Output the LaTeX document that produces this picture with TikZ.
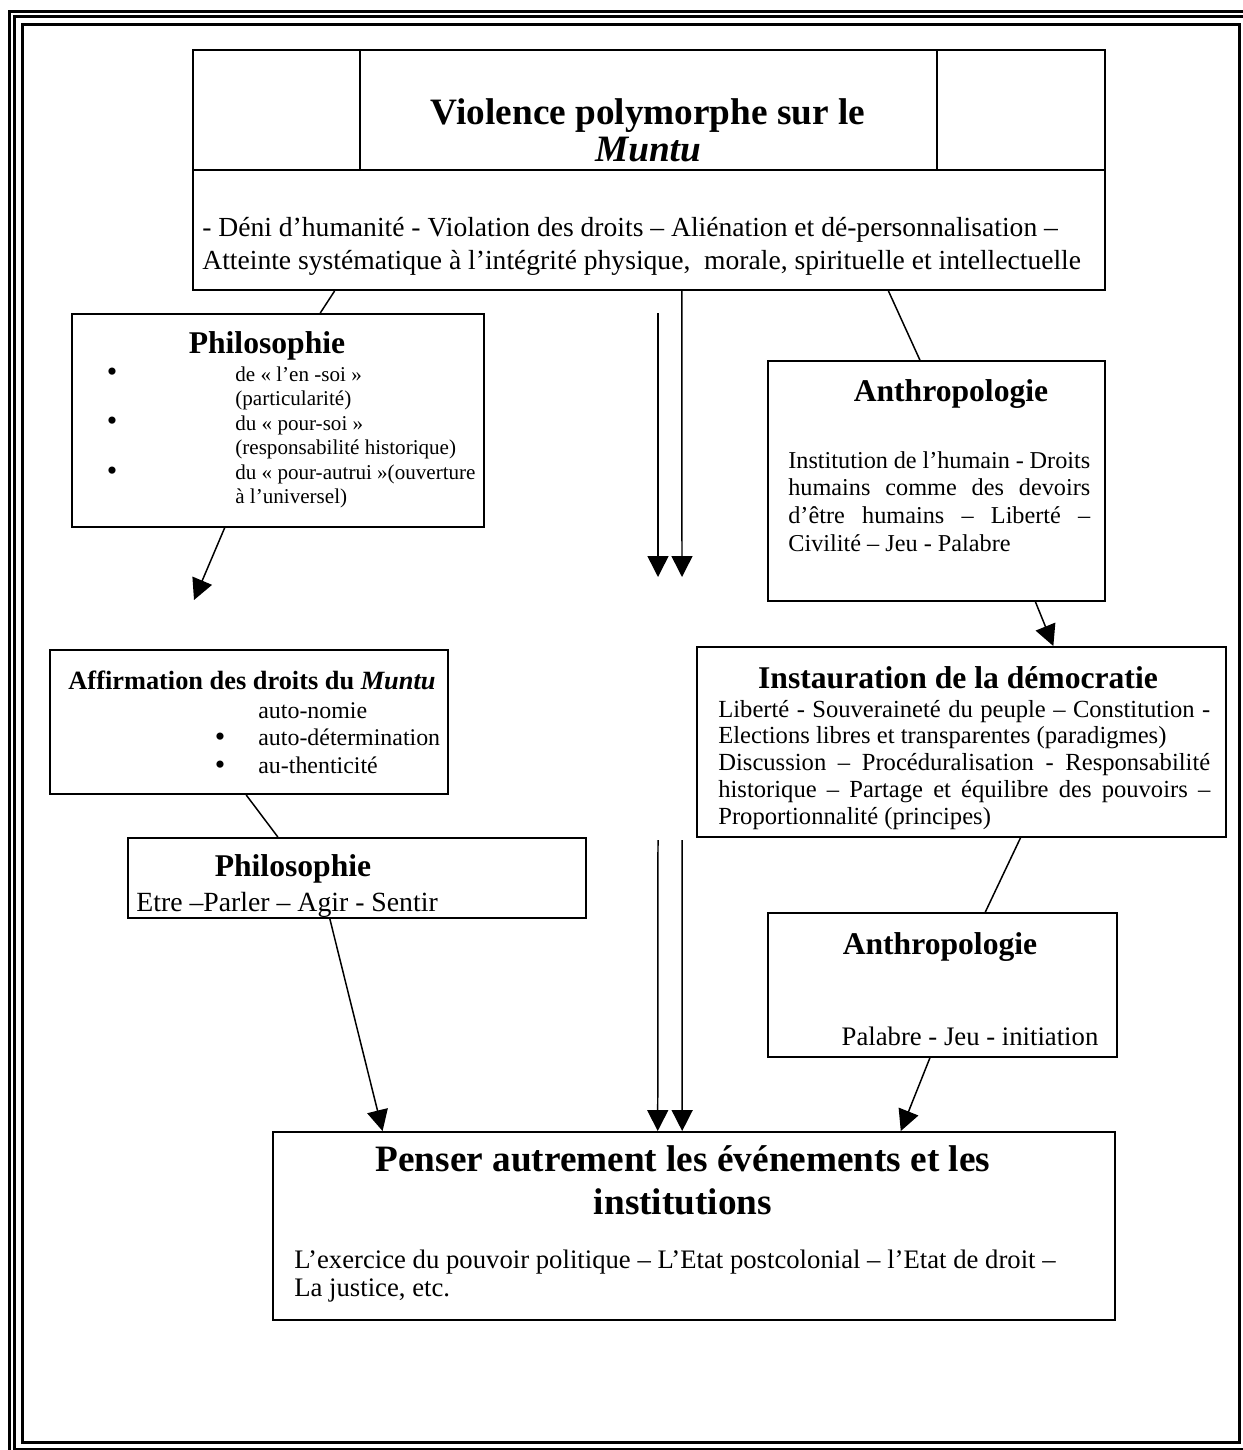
\documentclass[tikz,border=0pt]{standalone}
\usepackage{fontspec}
\setmainfont{Liberation Serif}
\usetikzlibrary{arrows.meta,calc,fit}

\tikzset{
    box/.style={draw, line width=1.1pt, inner sep=0pt},
    link/.style={line width=0.85pt},
    arr/.style={line width=0.85pt, -{Triangle[width=0.42cm,length=0.42cm]}},
    bigtitle/.style={font=\fontsize{21.2}{24}\selectfont\bfseries, align=flush center, inner sep=0pt, anchor=base},
    head/.style={font=\fontsize{18}{20}\selectfont\bfseries, inner sep=0pt, anchor=base},
    txt/.style={font=\fontsize{15.2}{17}\selectfont, inner sep=0pt, anchor=base west, align=flush left},
    small/.style={font=\fontsize{12}{13.95}\selectfont, inner sep=0pt, anchor=base west, align=flush left},
    dot/.style={font=\fontsize{17}{17}\selectfont, inner sep=0pt, anchor=base},
}

\begin{document}
\begin{tikzpicture}[x=0.02cm, y=-0.02cm]
    \useasboundingbox (0,0) rectangle (1242,1450);

    % Page frame
    \draw[line width=1.7pt] (9.5,11.3) rectangle (1260,1465);
    \draw[line width=1.7pt] (14.5,16.5) rectangle (1246,1449);
    \draw[line width=1.7pt] (22.5,24.5) rectangle (1239.5,1442.5);

    % Violence
    \node[box, fit={(193,50) (1105,290)}] (top) {};
    \draw[box] (193,170) -- (1105,170) (360,50) -- (360,170) (937,50) -- (937,170); % title cells
    \node[bigtitle, text width=11cm, font=\fontsize{21.2}{21.5}\selectfont\bfseries] (topt) at (648,124) {Violence polymorphe sur le\\\textit{Muntu}};
    \node[txt, text width=20cm, font=\fontsize{15.7}{19.2}\selectfont] (topl) at (202,236) {- Déni d’humanité - Violation des droits – Aliénation et dé-personnalisation –\\Atteinte systématique à l’intégrité physique,\ \ morale, spirituelle et intellectuelle};

    % Philosophie (en-soi, pour-soi, pour-autrui)
    \node[box, fit={(72,314) (484,527)}] (philA) {};
    \node[head] (philAt) at (267,353) {Philosophie};
    \node[small, text width=6cm] (philAl) at (235,381) {de « l’en -soi »\\(particularité)\\du « pour-soi »\\(responsabilité historique)\\du « pour-autrui »(ouverture\\à l’universel)};
    \foreach \y [count=\i] in {381,430,480}
        \node[dot] (dotA\i) at (112,\y) {\textbullet};

    % Anthropologie
    \node[box, fit={(768,361) (1105,601)}] (anthA) {};
    \node[head] (anthAt) at (951,401) {Anthropologie};
    \node[txt, font=\fontsize{13.8}{15.9}\selectfont, text width=6.04cm, align=justify] (anthAl) at (788,468) {Institution de l’humain - Droits\linebreak humains comme des devoirs\linebreak d’être humains – Liberté –\linebreak Civilité – Jeu - Palabre};

    % Instauration de la democratie
    \node[box, fit={(697,647) (1226,837)}] (demo) {};
    \node[head] (demot) at (958,688) {Instauration de la démocratie};
    \node[txt, font=\fontsize{14}{15.3}\selectfont, text width=9.84cm, align=justify] (demol) at (718,717) {Liberté - Souveraineté du peuple – Constitution -\linebreak Elections libres et transparentes (paradigmes)\newline Discussion – Procéduralisation - Responsabilité\linebreak historique – Partage et équilibre des pouvoirs –\linebreak Proportionnalité (principes)};

    % Affirmation des droits
    \node[box, fit={(50,650) (448,794)}] (affi) {};
    \node[head, font=\fontsize{15}{17}\selectfont\bfseries] (affit) at (252,689) {Affirmation des droits du \textit{Muntu}};
    \node[txt, text width=4cm, font=\fontsize{13.6}{15.9}\selectfont] (affil) at (258,718) {auto-nomie\\auto-détermination\\au-thenticité};
    \foreach \y [count=\i] in {746,774}
        \node[dot] (dotB\i) at (220,\y) {\textbullet};

    % Philosophie (etre, parler...)
    \node[box, fit={(128,838) (586,918)}] (philB) {};
    \node[head] (philBt) at (293,876) {Philosophie};
    \node[txt, font=\fontsize{15.8}{18}\selectfont] (philBl) at (136,911) {Etre –Parler – Agir - Sentir};

    % Anthropologie (palabre)
    \node[box, fit={(768,913) (1117,1057)}] (anthB) {};
    \node[head] (anthBt) at (940,954) {Anthropologie};
    \node[txt, anchor=base] (anthBl) at (970,1045) {Palabre - Jeu - initiation};

    % Penser autrement
    \node[box, fit={(273,1132) (1115,1320)}] (penser) {};
    \node[bigtitle, text width=15cm, font=\fontsize{21.2}{24.5}\selectfont\bfseries] (pensert) at (683,1171) {Penser autrement les événements et les\\institutions};
    \node[txt, text width=16cm, font=\fontsize{15.2}{16.4}\selectfont] (penserl) at (294,1268) {L’exercice du pouvoir politique – L’Etat postcolonial – l’Etat de droit –\\La justice, etc.};

    % Free ends
    \coordinate (tipA) at (194,600);
    \coordinate (dblA) at (658,313);
    \coordinate (endA) at (658,577);
    \coordinate (endB) at (682,577);
    \coordinate (dblB) at (658,840);
    \coordinate (dblC) at (682,840);

    % Connectors
    \draw[link] ($(top.south west)!0.156!(top.south east)$) -- ($(philA.north west)!0.602!(philA.north east)$);
    \draw[link] ($(top.south west)!0.762!(top.south east)$) -- ($(anthA.north west)!0.451!(anthA.north east)$);
    \draw[arr] ($(philA.south west)!0.371!(philA.south east)$) -- (tipA);
    \draw[arr] (dblA) -- (endA);
    \draw[arr] ($(top.south west)!0.536!(top.south east)$) -- (endB);
    \draw[arr] ($(anthA.south west)!0.792!(anthA.south east)$) -- ($(demo.north west)!0.673!(demo.north east)$);
    \draw[link] ($(affi.south west)!0.493!(affi.south east)$) -- ($(philB.north west)!0.328!(philB.north east)$);
    \draw[link] ($(demo.south west)!0.611!(demo.south east)$) -- ($(anthB.north west)!0.622!(anthB.north east)$);
    \draw[arr] ($(philB.south west)!0.441!(philB.south east)$) -- ($(penser.north west)!0.131!(penser.north east)$);
    \draw[arr] (dblB) -- ($(penser.north west)!0.457!(penser.north east)$);
    \draw[arr] (dblC) -- ($(penser.north west)!0.486!(penser.north east)$);
    \draw[arr] ($(anthB.south west)!0.464!(anthB.south east)$) -- ($(penser.north west)!0.745!(penser.north east)$);

\end{tikzpicture}
\end{document}
